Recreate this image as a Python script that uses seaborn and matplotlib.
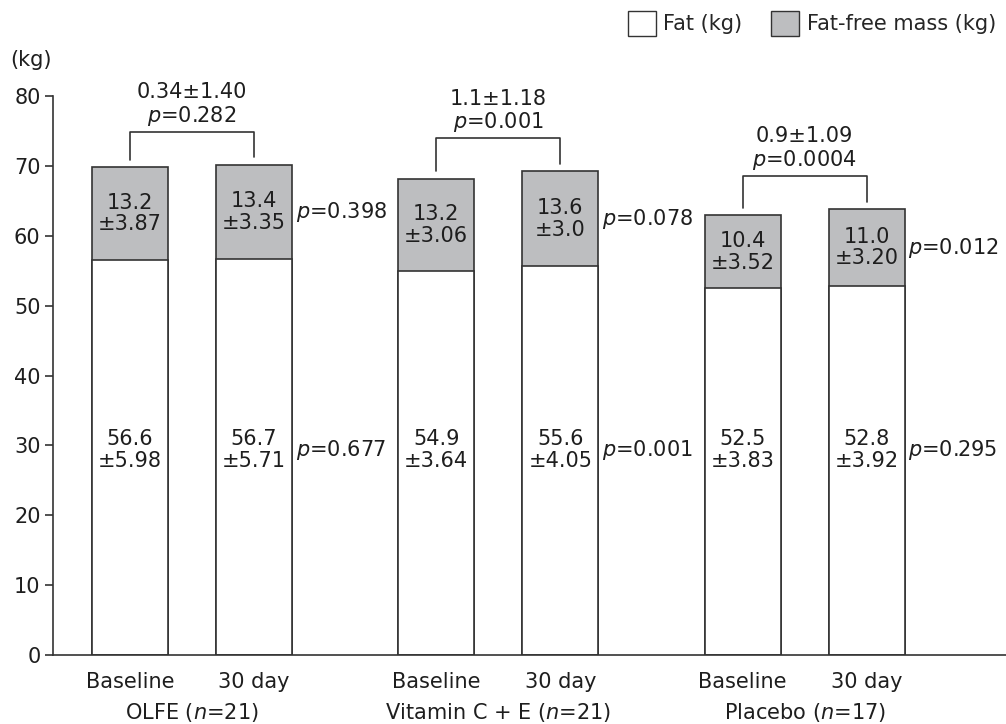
import numpy as np
import pandas as pd
import matplotlib
matplotlib.use("Agg")
import matplotlib.pyplot as plt
import seaborn as sns
from matplotlib.patches import Patch

# ---------------- data ----------------
groups = ["OLFE", "Vitamin C + E", "Placebo"]
group_n = [21, 21, 17]
timepoints = ["Baseline", "30 day"]
fat = [56.6, 56.7, 54.9, 55.6, 52.5, 52.8]
fat_sd = ["5.98", "5.71", "3.64", "4.05", "3.83", "3.92"]
ffm = [13.2, 13.4, 13.2, 13.6, 10.4, 11.0]
ffm_sd = ["3.87", "3.35", "3.06", "3.0", "3.52", "3.20"]
fat_lbl = ["56.6", "56.7", "54.9", "55.6", "52.5", "52.8"]
ffm_lbl = ["13.2", "13.4", "13.2", "13.6", "10.4", "11.0"]
p_fat = ["0.677", "0.001", "0.295"]
p_ffm = ["0.398", "0.078", "0.012"]
diff_txt = ["0.34\u00b11.40", "1.1\u00b11.18", "0.9\u00b11.09"]
p_diff = ["0.282", "0.001", "0.0004"]
y_ticks = [0, 10, 20, 30, 40, 50, 60, 70, 80]

# ---------------- layout ----------------
GROUP_STEP = 2.47
BAR_W = 0.613
FS = 15
GRAY = "#BDBEC0"
EDGE = "#333333"
TXT = "#1e1e1e"

sns.set_theme(style="white")
plt.rcParams["font.family"] = ["DejaVu Sans"]
plt.rcParams["mathtext.fontset"] = "dejavusans"

xpos = []
for gi in range(len(groups)):
    for ti in range(len(timepoints)):
        xpos.append(gi * GROUP_STEP + ti)
total = [f + m for f, m in zip(fat, ffm)]
df = pd.DataFrame({"x": xpos, "fat": fat, "ffm": ffm, "total": total})

fig = plt.figure(figsize=(10.06, 7.24), dpi=100)
ax = fig.add_axes([53 / 1006, 1 - 655 / 724, 1 - 53 / 1006, (655 - 96) / 724])

sns.barplot(data=df, x="x", y="total", native_scale=True, width=BAR_W,
            color=GRAY, saturation=1, edgecolor=EDGE, linewidth=1.2,
            errorbar=None, ax=ax)
sns.barplot(data=df, x="x", y="fat", native_scale=True, width=BAR_W,
            color="white", saturation=1, edgecolor=EDGE, linewidth=1.2,
            errorbar=None, ax=ax)

ax.set_xlim(-(130 - 53) / 124, (1006 - 130) / 124)
ax.set_ylim(0, 80)
ax.set_yticks(y_ticks)
ax.set_yticklabels([str(t) for t in y_ticks], fontsize=FS, color=TXT)
ax.tick_params(axis="y", direction="out", length=6, width=1.2, color=EDGE,
               left=True, pad=3)
ax.set_xticks(xpos)
ax.set_xticklabels(timepoints * len(groups), fontsize=FS, color=TXT)
ax.tick_params(axis="x", length=0, pad=12)
ax.set_xlabel("")
ax.set_ylabel("")
for s in ["top", "right"]:
    ax.spines[s].set_visible(False)
for s in ["left", "bottom"]:
    ax.spines[s].set_color(EDGE)
    ax.spines[s].set_linewidth(1.2)

txt_kw = dict(fontsize=FS, color=TXT, linespacing=1.1)

# labels inside bars
for i, x in enumerate(xpos):
    ax.text(x, 29.3, f"{fat_lbl[i]}\n\u00b1{fat_sd[i]}", ha="center", va="center", **txt_kw)
    ax.text(x, fat[i] + ffm[i] / 2, f"{ffm_lbl[i]}\n\u00b1{ffm_sd[i]}",
            ha="center", va="center", **txt_kw)

# side p-values and brackets
for gi in range(len(groups)):
    b0 = gi * 2
    b1 = gi * 2 + 1
    xr = xpos[b1] + BAR_W / 2 + 0.03
    ax.text(xr, 29.3, r"$p$=" + p_fat[gi], ha="left", va="center", **txt_kw)
    ax.text(xr, fat[b1] + ffm[b1] / 2, r"$p$=" + p_ffm[gi], ha="left", va="center", **txt_kw)
    top = max(total[b0], total[b1]) + 4.8
    ax.plot([xpos[b0], xpos[b0], xpos[b1], xpos[b1]],
            [total[b0] + 1.1, top, top, total[b1] + 1.1],
            color=EDGE, lw=1.2, clip_on=False)
    xc = (xpos[b0] + xpos[b1]) / 2
    ax.text(xc, top + 0.5, diff_txt[gi] + "\n" + r"$p$=" + p_diff[gi],
            ha="center", va="bottom", **txt_kw)
    ax.annotate(f"{groups[gi]} (" + r"$n$" + f"={group_n[gi]})",
                xy=(xc, 0), xycoords=("data", "axes fraction"),
                xytext=(0, -57 * 0.72), textcoords="offset points",
                ha="center", va="center", **txt_kw)

fig.text(10 / 1006, 1 - 60 / 724, "(kg)", ha="left", va="center", fontsize=FS, color=TXT)

handles = [Patch(facecolor="white", edgecolor=EDGE, linewidth=1.0),
           Patch(facecolor=GRAY, edgecolor=EDGE, linewidth=1.0)]
fig.legend(handles, ["Fat (kg)", "Fat-free mass (kg)"], loc="upper right",
           bbox_to_anchor=(996 / 1006, 1 - 11 / 724), ncol=2, frameon=False,
           fontsize=FS, handlelength=1.35, handleheight=1.45, handletextpad=0.35,
           columnspacing=1.4, borderpad=0, borderaxespad=0)

fig.savefig("out.png", dpi=100)
